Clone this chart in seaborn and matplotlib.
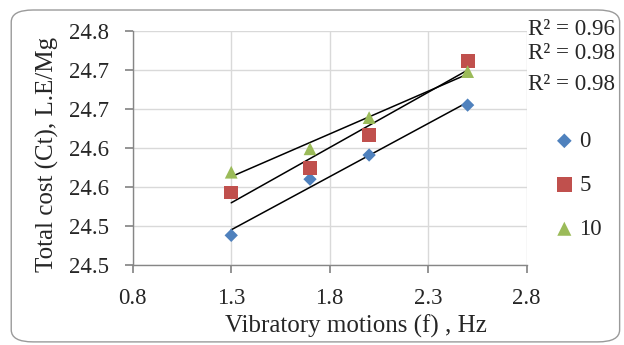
import matplotlib
matplotlib.use("Agg")
import matplotlib.pyplot as plt
from matplotlib.patches import FancyBboxPatch
import seaborn as sns
import pandas as pd
import numpy as np

# Data
freq = [1.3, 1.7, 2.0, 2.5]
cost_0 = [24.488, 24.560, 24.591, 24.655]
cost_5 = [24.543, 24.574, 24.617, 24.711]
cost_10 = [24.569, 24.599, 24.639, 24.698]
series_names = ["0", "5", "10"]
r2_labels = ["R² = 0.96", "R² = 0.98", "R² = 0.98"]
x_ticks = [0.8, 1.3, 1.8, 2.3, 2.8]
y_ticks = [24.45, 24.50, 24.55, 24.60, 24.65, 24.70, 24.75]
y_tick_labels = ["24.5", "24.5", "24.6", "24.6", "24.7", "24.7", "24.8"]

df = pd.DataFrame({
    "f": freq * 3,
    "cost": cost_0 + cost_5 + cost_10,
    "series": [series_names[0]] * 4 + [series_names[1]] * 4 + [series_names[2]] * 4,
})

sns.set_theme(style="white")
plt.rcParams["font.family"] = ["Liberation Serif", "DejaVu Serif"]

fig = plt.figure(figsize=(6.24, 3.45), dpi=100)
ax = fig.add_axes([0.2127, 0.2319, 0.8441 - 0.2127, 0.9101 - 0.2319])

# Border
fig.patches.append(FancyBboxPatch((0.018, 0.009), 0.975, 0.962,
                                  boxstyle="round,pad=0,rounding_size=0.035",
                                  transform=fig.transFigure, fill=False,
                                  edgecolor="#9a9a9a", linewidth=1.0))

palette = {"0": "#4F81BD", "5": "#C0504D", "10": "#9BBB59"}
markers = {"0": "D", "5": "s", "10": "^"}
sizes = {"0": 46, "5": 100, "10": 85}

for name in series_names:
    sub = df[df["series"] == name]
    sns.regplot(data=sub, x="f", y="cost", ax=ax, scatter=False, ci=None,
                truncate=True, line_kws={"color": "black", "lw": 1.1})

for name in series_names:
    sub = df[df["series"] == name]
    sns.scatterplot(data=sub, x="f", y="cost", ax=ax, color=palette[name],
                    marker=markers[name], s=sizes[name], edgecolor="none",
                    label=name, zorder=3)

ax.set_xlim(0.8, 2.8)
ax.set_ylim(24.45, 24.75)
ax.set_xticks(x_ticks)
ax.set_xticklabels([f"{v:.1f}" for v in x_ticks])
ax.set_yticks(y_ticks)
ax.set_yticklabels(y_tick_labels)
ax.grid(True, color="#d9d9d9", linewidth=1.0)
ax.set_axisbelow(True)
for s in ["top", "right"]:
    ax.spines[s].set_visible(False)
for s in ["left", "bottom"]:
    ax.spines[s].set_color("#868686")
    ax.spines[s].set_linewidth(1.0)
ax.tick_params(axis="both", which="both", direction="out", length=5.8,
               color="#868686", labelsize=16.4, left=True, bottom=True)
ax.tick_params(axis="y", pad=11.5)
ax.tick_params(axis="x", pad=11)
ax.set_xlabel("Vibratory motions (f) , Hz", fontsize=18)
ax.set_ylabel("Total cost (Ct), L.E/Mg", fontsize=18)
ax.xaxis.set_label_coords(0.566, -0.26)
ax.xaxis.label.set_va("center")
ax.yaxis.set_label_coords(-0.2165, 0.472)
ax.yaxis.label.set_va("center")

leg = ax.legend(loc="center left", bbox_to_anchor=(0.886, 0.463),
                bbox_transform=fig.transFigure, frameon=False, fontsize=16.5,
                labelspacing=1.0, handletextpad=0.15, handlelength=1.0,
                borderaxespad=0, borderpad=0, markerscale=1.1)

for lbl, yy in zip(r2_labels, [29.3, 53.3, 85.0]):
    fig.text(0.846, 1 - yy / 345, lbl, fontsize=16.6, ha="left", va="center")

fig.savefig("out.png", dpi=100)
